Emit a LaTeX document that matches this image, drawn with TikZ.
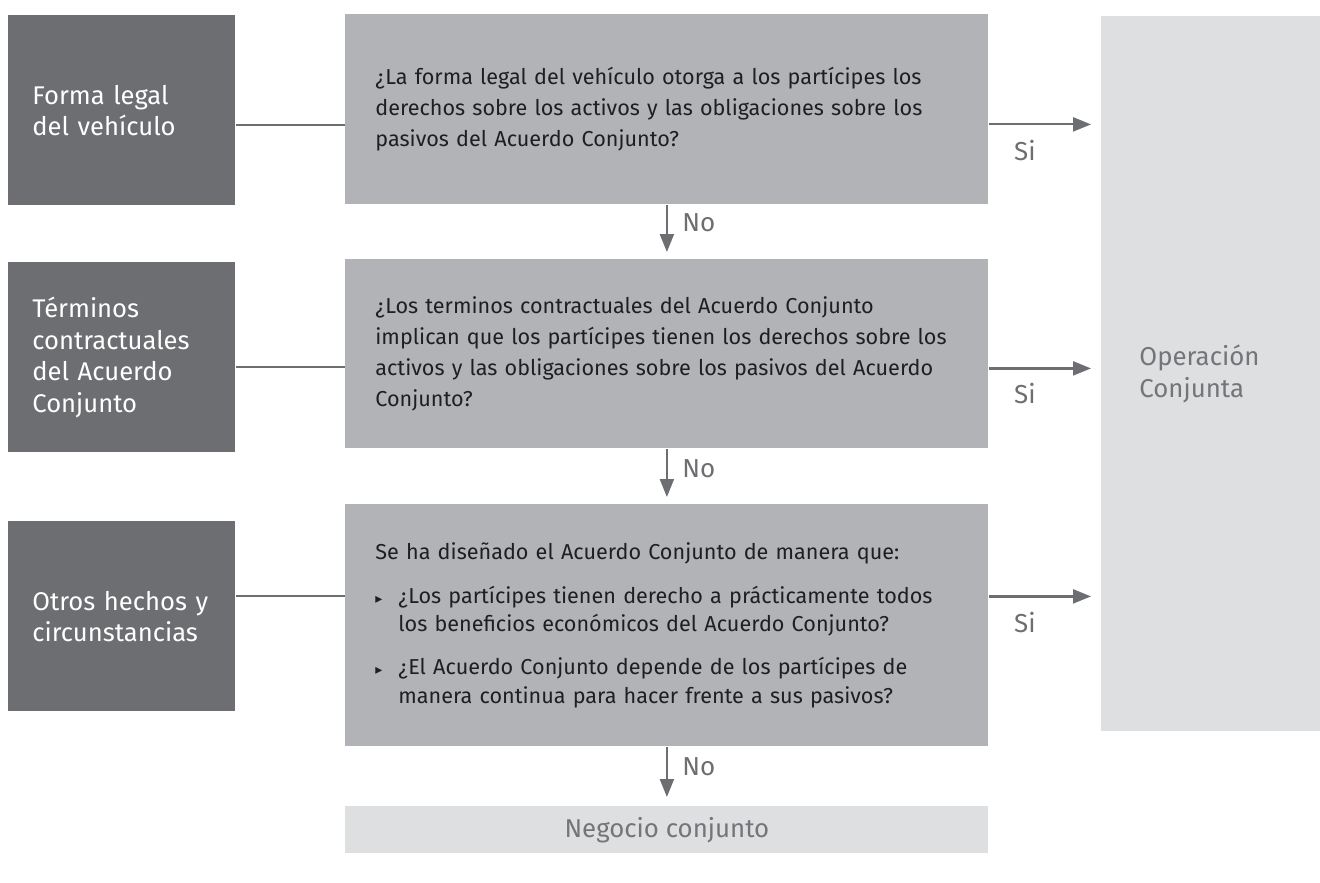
\documentclass[tikz,border=0pt]{standalone}
\usepackage{fontspec}
\setmainfont{Fira Sans}
\newfontfamily\dejavu{DejaVu Sans}
\usepackage{xcolor}
\definecolor{dg}{RGB}{109,110,113}
\definecolor{mg}{RGB}{177,179,182}
\definecolor{lg}{RGB}{222,223,225}
\definecolor{tg}{RGB}{116,117,120}
\definecolor{tx}{RGB}{30,30,35}
\usepackage{tikz}
\usetikzlibrary{arrows.meta,positioning,calc}
\newcommand{\itm}{\par\vspace{7.4pt}\hangindent=11.5pt\hangafter=1\noindent\makebox[11.5pt][l]{\dejavu\fontsize{7}{7}\selectfont ▸}}

\begin{document}
\begin{tikzpicture}[x=0.5pt,y=-0.5pt,
  lft/.style={fill=dg,text=white,font=\fontsize{12.8}{15.8}\selectfont,anchor=north west,align=left,inner xsep=12pt,text width=89.5pt,minimum height=95pt},
  qst/.style={fill=mg,text=tx,font=\fontsize{10.8}{15.6}\selectfont,anchor=north west,align=left,inner xsep=15pt,text width=291.5pt},
  res/.style={fill=lg,text=tg,font=\fontsize{12.9}{16}\selectfont,anchor=north west},
  lbl/.style={text=dg,font=\fontsize{13}{14}\selectfont,inner sep=0pt,anchor=west},
  lnk/.style={dg,line width=1pt},
  arr/.style={dg,line width=1.1pt,-{Triangle[length=9pt,width=7pt]}}]
  \useasboundingbox (0,0) rectangle (1320,882);
  \node[lft] (L1) at (8,15) {Forma legal\\del vehículo};
  \node[lft] (L2) at (8,262) {Términos\\contractuales\\del Acuerdo\\Conjunto};
  \node[lft] (L3) at (8,521) {Otros hechos y\\circunstancias};
  \node[qst,minimum height=95pt] (M1) at (345,14) {¿La forma legal del vehículo otorga a los partícipes los\\derechos sobre los activos y las obligaciones sobre los\\pasivos del Acuerdo Conjunto?};
  \node[qst,minimum height=94.5pt] (M2) at (345,259) {¿Los terminos contractuales del Acuerdo Conjunto\\implican que los partícipes tienen los derechos sobre los\\activos y las obligaciones sobre los pasivos del Acuerdo\\Conjunto?};
  \node[qst,font=\fontsize{10.8}{14.25}\selectfont,minimum height=121pt] (M3) at (345,504) {Se ha diseñado el Acuerdo Conjunto de manera que:%
    \itm ¿Los partícipes tienen derecho a prácticamente todos\newline los beneficios económicos del Acuerdo Conjunto?%
    \itm ¿El Acuerdo Conjunto depende de los partícipes de\newline manera continua para hacer frente a sus pasivos?\par};
  \node[res,align=left,inner xsep=19pt,text width=71.5pt,minimum height=357.5pt] (R) at (1101,16) {Operación\\Conjunta};
  \node[res,minimum width=321.5pt,minimum height=23.5pt] (B) at (345,806) {Negocio conjunto};
  \coordinate (a1) at ($(L1.east)+(0,15)$);
  \coordinate (a2) at ($(L2.east)+(0,10)$);
  \coordinate (a3) at ($(L3.east)+(0,-20)$);
  \draw[lnk] (a1) -- (a1 -| M1.west);
  \draw[lnk] (a2) -- (a2 -| M2.west);
  \draw[lnk] (a3) -- (a3 -| M3.west);
  \coordinate (s1) at ($(M1.east)+(0,15)$);
  \coordinate (s2) at ($(M2.east)+(0,14.5)$);
  \coordinate (s3) at ($(M3.east)+(0,-29)$);
  \draw[arr,shorten >=5pt] (s1) -- (s1 -| R.west);
  \draw[arr,shorten >=5pt] (s2) -- (s2 -| R.west);
  \draw[arr,shorten >=5pt] (s3) -- (s3 -| R.west);
  \node[lbl] (si1) at ($(s1)+(25,26)$) {Si};
  \node[lbl] (si2) at ($(s2)+(25,25)$) {Si};
  \node[lbl] (si3) at ($(s3)+(25,26)$) {Si};
  \draw[arr,shorten >=3.5pt] (M1.south) -- (M2.north);
  \draw[arr,shorten >=3.5pt] (M2.south) -- (M3.north);
  \draw[arr,shorten >=4.5pt] (M3.south) -- (B.north);
  \node[lbl] (no1) at ($(M1.south)+(15,18)$) {No};
  \node[lbl] (no2) at ($(M2.south)+(15,20)$) {No};
  \node[lbl] (no3) at ($(M3.south)+(15,20)$) {No};
\end{tikzpicture}
\end{document}
